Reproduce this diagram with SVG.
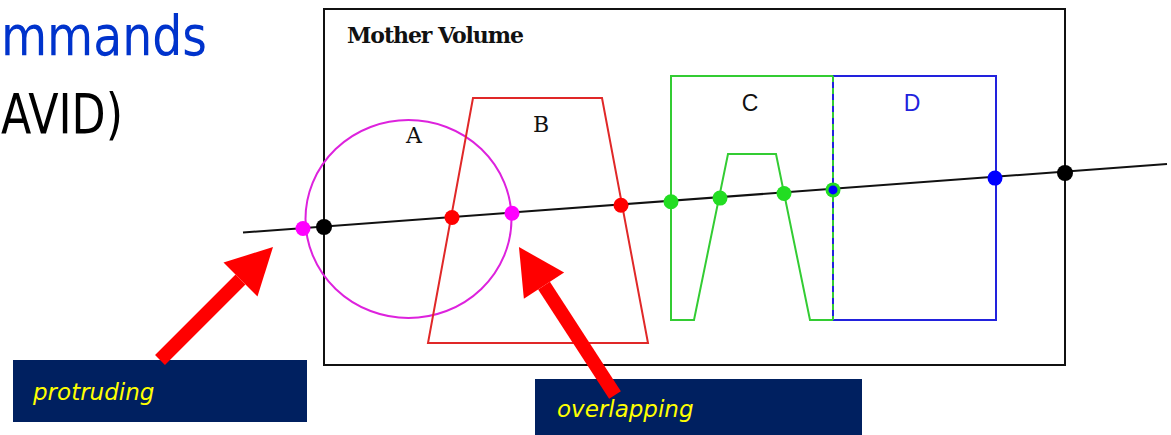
<svg xmlns="http://www.w3.org/2000/svg" width="1171" height="435" viewBox="0 0 1171 435">
<style>
.title{font-family:"DejaVu Sans Condensed","DejaVu Sans",sans-serif;font-size:55px}
.ser{font-family:"DejaVu Serif","Liberation Serif",serif;font-size:22px;fill:#111}
.sans{font-family:"Liberation Sans",Arial,sans-serif;font-size:23px}
.lab{font-family:"DejaVu Sans","Verdana",sans-serif;font-style:italic;font-size:23px;fill:#ffff00}
.box{fill:#002060}
.shape{fill:none;stroke-width:2}
.dot{stroke:none}
.arrow{stroke:#ff0000;stroke-width:14;fill:none;marker-end:url(#head)}
</style>
<defs>
<marker id="head" markerUnits="userSpaceOnUse" viewBox="0 0 46 48" markerWidth="46" markerHeight="48" refX="0" refY="24" orient="auto" overflow="visible">
<path d="M0,0 L46,24 L0,48 z" fill="#ff0000"/>
</marker>
</defs>
<rect width="1171" height="435" fill="#ffffff"/>
<g id="title">
<text class="title" x="1" y="55" textLength="206" lengthAdjust="spacingAndGlyphs" fill="#0033cc">mmands</text>
<text class="title" x="1" y="133" textLength="122" lengthAdjust="spacingAndGlyphs" fill="#000000">AVID)</text>
</g>
<g id="mother-volume">
<rect x="324" y="9" width="741" height="356" fill="none" stroke="#111" stroke-width="2"/>
<text class="ser" x="347" y="43" textLength="177" font-weight="bold">Mother Volume</text>
</g>
<g id="volume-A">
<ellipse cx="408.5" cy="219" rx="103" ry="99" class="shape" stroke="#dd22dd"/>
<text class="ser" x="414" y="143" text-anchor="middle">A</text>
</g>
<g id="volume-B">
<polygon points="473,98 602,98 648,343 428,343" class="shape" stroke="#e02828"/>
<text class="ser" x="541" y="132" text-anchor="middle">B</text>
</g>
<g id="volume-D">
<rect x="833" y="76" width="163" height="244" class="shape" stroke="#2222dd"/>
<text class="sans" x="912" y="111" text-anchor="middle" fill="#2222dd">D</text>
</g>
<g id="volume-C">
<polyline points="833,76 671,76 671,320 694,320 728,154 776,154 810,320 833,320" class="shape" stroke="#33cc33"/>
<line x1="833" y1="76" x2="833" y2="320" stroke="#33cc33" stroke-width="2" stroke-dasharray="6,6"/>
<text class="sans" x="750" y="111" text-anchor="middle" fill="#111">C</text>
</g>
<g id="ray">
<line x1="243" y1="232.5" x2="1167" y2="164" stroke="#111" stroke-width="2"/>
</g>
<g id="intersections">
<circle class="dot" cx="303" cy="228.5" r="7.5" fill="#ff00ff"/>
<circle class="dot" cx="324" cy="227" r="8" fill="#000"/>
<circle class="dot" cx="452" cy="217.5" r="7.5" fill="#ff0000"/>
<circle class="dot" cx="512" cy="213.3" r="7.5" fill="#ff00ff"/>
<circle class="dot" cx="621" cy="205.3" r="7.5" fill="#ff0000"/>
<circle class="dot" cx="671" cy="201.7" r="7.5" fill="#22dd22"/>
<circle class="dot" cx="720" cy="198.1" r="7.5" fill="#22dd22"/>
<circle class="dot" cx="784" cy="193.5" r="7.5" fill="#22dd22"/>
<circle class="dot" cx="833" cy="189.9" r="7.5" fill="#22dd22"/>
<circle class="dot" cx="833" cy="189.9" r="4.5" fill="#0000ff"/>
<circle class="dot" cx="995" cy="178.1" r="7.5" fill="#0000ff"/>
<circle class="dot" cx="1065" cy="173" r="8" fill="#000"/>
</g>
<g id="label-protruding">
<rect class="box" x="13" y="360" width="294" height="62"/>
<text class="lab" x="33" y="400">protruding</text>
</g>
<g id="label-overlapping">
<rect class="box" x="535" y="379" width="327" height="56"/>
<text class="lab" x="557" y="417">overlapping</text>
</g>
<g id="connectors">
<line class="arrow" x1="160" y1="360" x2="240.5" y2="279.5"/>
<line class="arrow" x1="615" y1="395" x2="544" y2="285.6"/>
</g>
</svg>
